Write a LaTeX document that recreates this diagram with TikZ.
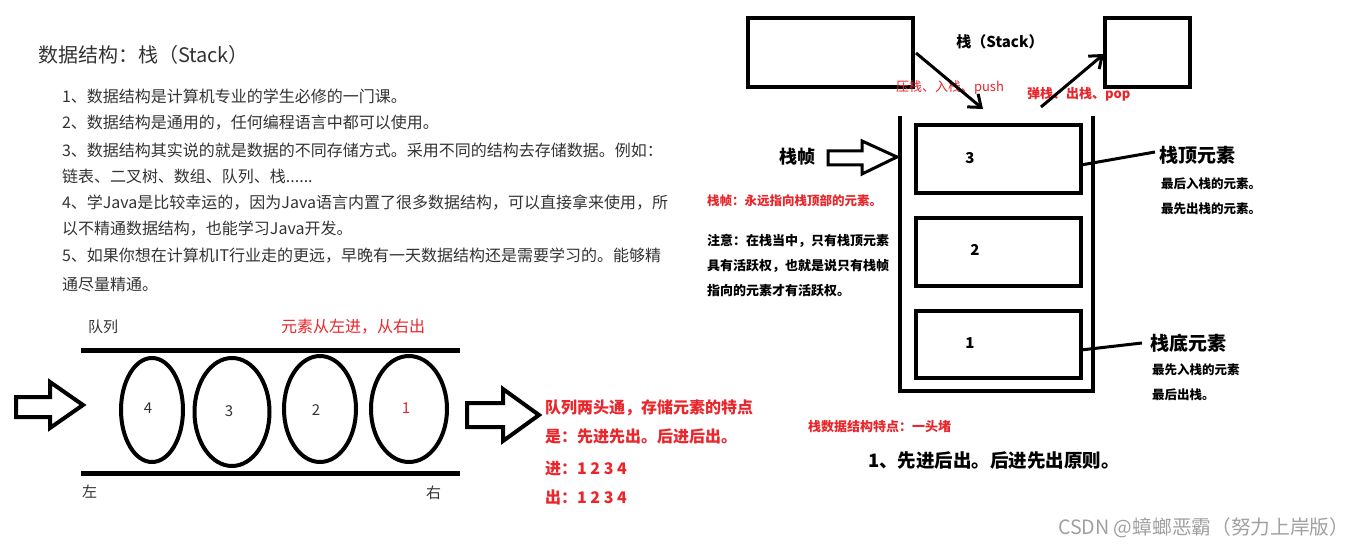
\documentclass[tikz,border=0pt]{standalone}
\usepackage{fontspec}
\setmainfont{Noto Sans CJK SC}
\usetikzlibrary{arrows.meta,shapes.geometric}
\definecolor{redt}{HTML}{E8262B}
\definecolor{gtext}{HTML}{333333}
\definecolor{wm}{HTML}{A0A0A0}
\begin{document}
\begin{tikzpicture}[x=1pt,y=-1pt,
  every node/.style={inner sep=0pt, outer sep=0pt},
  fs/.style={font=\fontsize{#1}{#1}\selectfont},
  fsb/.style={font=\fontsize{#1}{#1}\selectfont\bfseries},
  para/.style={anchor=west, text=gtext, fs=16},
  rbold/.style={anchor=west, text=redt, fsb=16},
  qline/.style={line width=5pt},
  elli/.style={draw, ellipse, line width=4pt},
  sbox/.style={draw, rectangle, line width=3.5pt},
  blockarrow/.style={draw, line width=4pt, line join=miter, fill=white},
  parrow/.style={line width=3pt, -{Straight Barb[length=11pt,width=17pt,line width=3pt]}},
  wall/.style={line width=3.5pt, line join=miter},
  ]
\useasboundingbox (0,0) rectangle (1353,548);

% ---------- title and paragraph ----------
\node[anchor=west, text=gtext, fs=20] (title) at (38,55) {数据结构：栈（Stack）};
\node[para] (p1) at (62,96)  {1、数据结构是计算机专业的学生必修的一门课。};
\node[para] (p2) at (62,123) {2、数据结构是通用的，任何编程语言中都可以使用。};
\node[para] (p3) at (62,150) {3、数据结构其实说的就是数据的不同存储方式。采用不同的结构去存储数据。例如：};
\node[para] (p4) at (62,176) {链表、二叉树、数组、队列、栈......};
\node[para] (p5) at (62,202) {4、学Java是比较幸运的，因为Java语言内置了很多数据结构，可以直接拿来使用，所};
\node[para] (p6) at (62,229) {以不精通数据结构，也能学习Java开发。};
\node[para] (p7) at (62,256) {5、如果你想在计算机IT行业走的更远，早晚有一天数据结构还是需要学习的。能够精};
\node[para] (p8) at (62,284) {通尽量精通。};

% ---------- queue ----------
\node[anchor=west, text=gtext, fs=15] (qname) at (88,327) {队列};
\node[anchor=west, text=redt, fs=16] (qrule) at (281,327) {元素从左进，从右出};
\coordinate (qtl) at (81,350);  \coordinate (qtr) at (460,350);
\coordinate (qbl) at (81,473);  \coordinate (qbr) at (460,473);
\draw[qline] (qtl) -- (qtr);
\draw[qline] (qbl) -- (qbr);
\node[elli, minimum width=62pt, minimum height=104pt] (e4) at (152,410) {};
\node[elli, minimum width=75pt, minimum height=108pt] (e3) at (232,412) {};
\node[elli, minimum width=72pt, minimum height=106pt] (e2) at (320,409) {};
\node[elli, minimum width=76pt, minimum height=106pt] (e1) at (409,409) {};
\node[fs=15, text=gtext] (l4) at (148,408) {4};
\node[fs=15, text=gtext] (l3) at (229,411) {3};
\node[fs=15, text=gtext] (l2) at (316,410) {2};
\node[fs=15, text=redt] (l1) at (406,408) {1};
\node[anchor=west, text=gtext, fs=15] (left) at (82,492) {左};
\node[anchor=west, text=gtext, fs=15] (right) at (426,493) {右};
\draw[blockarrow] (16,397) -- (50,397) -- (50,382) -- (83,405) -- (50,428) -- (50,417) -- (16,417) -- cycle;
\draw[blockarrow] (467,403) -- (503,403) -- (503,389) -- (539,415) -- (503,441) -- (503,427) -- (467,427) -- cycle;
\node[rbold] (q1) at (545,408) {队列两头通，存储元素的特点};
\node[rbold] (q2) at (545,436) {是：先进先出。后进后出。};
\node[rbold] (q3) at (545,469) {进：1 2 3 4};
\node[rbold] (q4) at (545,497) {出：1 2 3 4};

% ---------- stack ----------
\node[sbox, minimum width=165pt, minimum height=69pt] (inbox) at (830.5,52.5) {};
\node[sbox, minimum width=85pt, minimum height=69pt] (outbox) at (1147.5,52.5) {};
\node[fsb=15] (stitle) at (1000,42) {栈（Stack）};
\node[anchor=west, text=redt, fs=13] (push) at (896,88) {压栈、入栈、push};
\node[anchor=west, text=redt, fsb=13] (pop) at (1027,94) {弹栈、出栈、pop};
\coordinate (ps) at (916,53);  \coordinate (pe) at (983,109);
\coordinate (os) at (1041,107); \coordinate (oe) at (1104,54);
\draw[parrow] (ps) -- (pe);
\draw[parrow] (os) -- (oe);

\coordinate (wtl) at (900,116); \coordinate (wbl) at (900,391);
\coordinate (wbr) at (1093,391); \coordinate (wtr) at (1093,116);
\draw[wall] (wtl) -- (wbl) -- (wbr) -- (wtr);

\node[sbox, minimum width=165pt, minimum height=68pt] (b3) at (998.5,159) {};
\node[sbox, minimum width=165pt, minimum height=68pt] (b2) at (998.5,252) {};
\node[sbox, minimum width=165pt, minimum height=67pt] (b1) at (998.5,344.5) {};
\node[fsb=15] (n3) at (970,158) {3};
\node[fsb=15] (n2) at (975,250) {2};
\node[fsb=15] (n1) at (970,343) {1};

\coordinate (t3) at (1155,152);
\coordinate (t1) at (1142,343);
\draw[line width=3pt] ([yshift=-6pt]b3.east) -- (t3);
\draw[line width=3pt] ([yshift=-5.5pt]b1.east) -- (t1);
\node[anchor=west, fsb=19] (top) at (1159,155) {栈顶元素};
\node[anchor=west, fsb=12.5] (top1) at (1161,184) {最后入栈的元素。};
\node[anchor=west, fsb=12.5] (top2) at (1161,209) {最先出栈的元素。};
\node[anchor=west, fsb=19] (bot) at (1150,343) {栈底元素};
\node[anchor=west, fsb=12.5] (bot1) at (1152,370) {最先入栈的元素};
\node[anchor=west, fsb=12.5] (bot2) at (1152,395) {最后出栈。};

\node[anchor=west, fsb=18] (frame) at (779,157) {栈帧};
\draw[blockarrow, line width=3pt] (828,151) -- (862,151) -- (862,141) -- (897,157) -- (862,174) -- (862,165) -- (828,165) -- cycle;
\node[anchor=west, text=redt, fsb=12.5] (fnote) at (707,201) {栈帧：永远指向栈顶部的元素。};
\node[anchor=west, fsb=13] (n1a) at (707,241) {注意：在栈当中，只有栈顶元素};
\node[anchor=west, fsb=13] (n1b) at (707,266) {具有活跃权，也就是说只有栈帧};
\node[anchor=west, fsb=13] (n1c) at (707,291) {指向的元素才有活跃权。};

\node[anchor=west, text=redt, fsb=13] (feat) at (808,427) {栈数据结构特点：一头堵};
\node[anchor=west, fsb=18.5] (rule) at (868,461) {1、先进后出。后进先出原则。};
\node[anchor=west, text=wm, fs=19.7] (wmark) at (1058,528) {CSDN @蟑螂恶霸（努力上岸版）};
\end{tikzpicture}
\end{document}
